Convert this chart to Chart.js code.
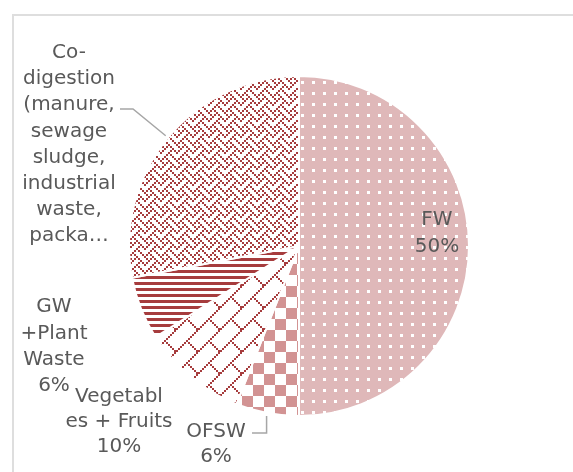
<!DOCTYPE html>
<html>
<head>
<meta charset="utf-8">
<script src="https://cdn.jsdelivr.net/npm/chart.js@4/dist/chart.umd.min.js"></script>
<style>
  html, body { margin: 0; padding: 0; background: #fff; overflow: hidden; }
  #wrap { position: relative; width: 573px; height: 472px; }
  #frame { position: absolute; left: 12px; top: 14px; width: 620px; height: 520px;
           border: 2px solid #dedede; box-sizing: border-box; }
  #pie { position: absolute; left: 0; top: 0; }
</style>
</head>
<body>
<div id="wrap">
  <div id="frame"></div>
  <canvas id="pie" width="573" height="472"></canvas>
</div>
<script>
var categories = ['FW', 'OFSW', 'Vegetables + Fruits', 'GW +Plant Waste',
  'Co-digestion (manure, sewage sludge, industrial waste, packaging)'];
var shares = [50, 6, 10, 6, 28];
// wrapped label text as it is printed next to each slice
var labelLines = [
  ['FW'],
  ['OFSW'],
  ['Vegetabl', 'es + Fruits'],
  ['GW', '+Plant', 'Waste'],
  ['Co-', 'digestion', '(manure,', 'sewage', 'sludge,', 'industrial', 'waste,', 'packa\u2026']
];

var DARK = '#a63c3d';

// small bitmap tile, one char per pixel ('1' = ink)
function bitTile(rows, fg, bg) {
  var c = document.createElement('canvas');
  c.width = rows[0].length;
  c.height = rows.length;
  var g = c.getContext('2d');
  g.fillStyle = bg;
  g.fillRect(0, 0, c.width, c.height);
  g.fillStyle = fg;
  rows.forEach(function(r, y) {
    for (var x = 0; x < r.length; x++) {
      if (r[x] === '1') g.fillRect(x, y, 1, 1);
    }
  });
  return c;
}

// blow a tile up to w x h with nearest-neighbour so the pixels stay hard
function resize(tile, w, h) {
  var c = document.createElement('canvas');
  c.width = w;
  c.height = h;
  var g = c.getContext('2d');
  g.imageSmoothingEnabled = false;
  g.drawImage(tile, 0, 0, w, h);
  return c;
}

function makePattern(tile) {
  return document.createElement('canvas').getContext('2d').createPattern(tile, 'repeat');
}

var dots = makePattern(resize(bitTile([
  '00000000',
  '00000000',
  '00000000',
  '00011000',
  '00011000',
  '00000000',
  '00000000',
  '00000000'
], '#ffffff', '#dfb8b9'), 11, 11));

var checker = makePattern(resize(bitTile(['10', '01'], '#d29393', '#ffffff'), 22, 22));

// diagonal brick: long "/" runs joined by short "\" steps
var brickRows = [];
(function() {
  var n = 11;
  for (var y = 0; y < n; y++) {
    var r = '';
    for (var x = 0; x < n; x++) {
      var on = (x + y === n - 1) || (y >= (n - 1) / 2 && x === y);
      r += on ? '1' : '0';
    }
    brickRows.push(r);
  }
})();
var brick = makePattern(resize(bitTile(brickRows, DARK, '#ffffff'), 22, 22));

var stripes = makePattern(bitTile(['1', '1', '1', '0', '0', '0'], DARK, '#ffffff'));

var weave = makePattern(resize(bitTile([
  '10001000',
  '01010100',
  '00100010',
  '01000101',
  '10001000',
  '00010100',
  '00100010',
  '01010001'
], DARK, '#ffffff'), 16, 16));

var fills = [dots, checker, brick, stripes, weave];

// where each label block sits (centre x, first line centre y)
var labelBoxes = [
  { x: 437, y: 220, lh: 27, pct: true },
  { x: 216, y: 432, lh: 25, pct: true, leader: { fromX: 252, fromY: 433, kneeX: null } },
  { x: 119, y: 397, lh: 25, pct: true },
  { x: 54, y: 307, lh: 26.3, pct: true },
  { x: 69, y: 53, lh: 26.1, pct: false, leader: { fromX: 120, fromY: 109, kneeX: 133 } }
];

var sliceLabels = {
  id: 'sliceLabels',
  afterDraw: function(chart) {
    var ctx = chart.ctx;
    var arcs = chart.getDatasetMeta(0).data;
    ctx.save();
    // leader lines, from label to the middle of the slice rim
    ctx.strokeStyle = '#a6a6a6';
    ctx.lineWidth = 1.5;
    labelBoxes.forEach(function(b, i) {
      if (!b.leader) return;
      var a = arcs[i];
      var mid = (a.startAngle + a.endAngle) / 2;
      var px = a.x + (a.outerRadius + 3) * Math.cos(mid);
      var py = a.y + (a.outerRadius + 3) * Math.sin(mid);
      var kx = b.leader.kneeX == null ? px : b.leader.kneeX;
      ctx.beginPath();
      ctx.moveTo(b.leader.fromX, b.leader.fromY);
      ctx.lineTo(kx, b.leader.fromY);
      ctx.lineTo(px, py);
      ctx.stroke();
    });
    ctx.fillStyle = '#595959';
    ctx.font = '20px "DejaVu Sans"';
    ctx.textAlign = 'center';
    ctx.textBaseline = 'middle';
    labelBoxes.forEach(function(b, i) {
      var lines = labelLines[i].slice();
      if (b.pct) lines.push(shares[i] + '%');
      lines.forEach(function(t, k) {
        ctx.fillText(t, b.x, b.y + k * b.lh);
      });
    });
    ctx.restore();
  }
};

new Chart(document.getElementById('pie'), {
  type: 'pie',
  data: {
    labels: categories,
    datasets: [{
      data: shares,
      backgroundColor: fills,
      borderColor: '#ffffff',
      borderWidth: 2
    }]
  },
  options: {
    responsive: false,
    animation: false,
    events: [],
    layout: { padding: { left: 128, right: 103, top: 75, bottom: 55 } },
    plugins: {
      legend: { display: false },
      tooltip: { enabled: false }
    }
  },
  plugins: [sliceLabels]
});
</script>
</body>
</html>
